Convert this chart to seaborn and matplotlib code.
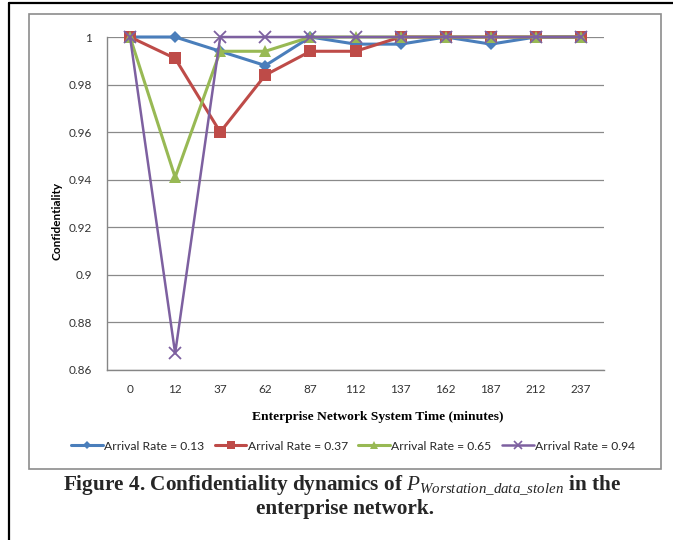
import matplotlib
matplotlib.use("Agg")
import matplotlib.pyplot as plt
import seaborn as sns
import pandas as pd
from matplotlib.lines import Line2D
from matplotlib.patches import Rectangle

times = ["0", "12", "37", "62", "87", "112", "137", "162", "187", "212", "237"]
rate_013 = [1.0, 1.0, 0.994, 0.988, 1.0, 0.997, 0.997, 1.0, 0.997, 1.0, 1.0]
rate_037 = [1.0, 0.991, 0.960, 0.984, 0.994, 0.994, 1.0, 1.0, 1.0, 1.0, 1.0]
rate_065 = [1.0, 0.941, 0.994, 0.994, 1.0, 1.0, 1.0, 1.0, 1.0, 1.0, 1.0]
rate_094 = [1.0, 0.867, 1.0, 1.0, 1.0, 1.0, 1.0, 1.0, 1.0, 1.0, 1.0]
series_names = ["Arrival Rate = 0.13", "Arrival Rate = 0.37",
                "Arrival Rate = 0.65", "Arrival Rate = 0.94"]
y_ticks = [0.86, 0.88, 0.90, 0.92, 0.94, 0.96, 0.98, 1.0]
y_ticklabels = ["0.86", "0.88", "0.9", "0.92", "0.94", "0.96", "0.98", "1"]

sns.set_theme(style="white")
plt.rcParams["font.family"] = ["Lato", "DejaVu Sans"]
plt.rcParams["mathtext.fontset"] = "custom"
plt.rcParams["mathtext.it"] = "Liberation Serif:italic"
plt.rcParams["mathtext.rm"] = "Liberation Serif"

rows = []
for name, vals in zip(series_names, [rate_013, rate_037, rate_065, rate_094]):
    for i, v in enumerate(vals):
        rows.append({"pos": i, "val": v, "series": name})
df = pd.DataFrame(rows)

colors = ["#4A7EBB", "#BE4B48", "#98B954", "#7D60A0"]
markers = ["D", "s", "^", "X"]
msizes = [6, 8.5, 8.5, 8]

W, H = 673, 540
fig = plt.figure(figsize=(W / 100, H / 100), dpi=100)
ax = fig.add_axes([107.5 / W, 1 - 370 / H, 496 / W, 333 / H])

for name, c, m, ms in zip(series_names, colors, markers, msizes):
    sub = df[df["series"] == name]
    if m == "X":
        sns.lineplot(data=sub, x="pos", y="val", ax=ax, color=c, lw=1.8,
                     marker="x", markersize=ms, markeredgewidth=1.3,
                     markeredgecolor=c, clip_on=False, zorder=3, legend=False)
    else:
        sns.lineplot(data=sub, x="pos", y="val", ax=ax, color=c, lw=2.2,
                     marker=m, markersize=ms, markeredgewidth=0,
                     markerfacecolor=c, clip_on=False, zorder=3, legend=False)

ax.set_xlim(-0.5, len(times) - 0.5)
ax.set_ylim(0.86, 1.0)
ax.set_yticks(y_ticks)
ax.set_yticklabels(y_ticklabels)
ax.set_xticks(range(len(times)))
ax.set_xticklabels(times)
ax.set_xticks([i - 0.5 for i in range(len(times) + 1)], minor=True)
ax.tick_params(axis="x", which="major", length=0, pad=10, labelsize=8.5, colors="#333333")
ax.tick_params(axis="x", which="minor", length=5, width=1, color="#868686", direction="out")
ax.tick_params(axis="y", length=5, width=1, color="#868686", direction="out", pad=6,
               labelsize=8.5, labelcolor="#333333")
ax.grid(axis="y", color="#8a8a8a", lw=0.9)
ax.set_axisbelow(True)
for s in ["top", "right"]:
    ax.spines[s].set_visible(False)
for s in ["left", "bottom"]:
    ax.spines[s].set_color("#868686")
    ax.spines[s].set_linewidth(1)

ax.set_xlabel("Enterprise Network System Time (minutes)", family="Liberation Serif",
              fontweight="bold", fontsize=9.7, color="black")
ax.xaxis.set_label_coords((378 - 107.5) / 496, (370 - 417) / 333)
ax.xaxis.label.set_va("center")
ax.set_ylabel("Confidentiality", fontweight="bold", fontsize=8.5, color="black")
ax.yaxis.set_label_coords((57 - 107.5) / 496, (370 - 221) / 333)
ax.yaxis.label.set_va("center")

handles = []
for c, m, ms in zip(colors, markers, msizes):
    if m == "X":
        handles.append(Line2D([], [], color=c, lw=1.8, marker="x", markersize=ms * 0.8,
                              markeredgewidth=1.2))
    else:
        handles.append(Line2D([], [], color=c, lw=2.2, marker=m, markersize=ms * 0.75,
                              markeredgewidth=0))
fig.legend(handles, series_names, loc="center", bbox_to_anchor=(353 / W, 1 - 446 / H),
           ncol=4, frameon=False, fontsize=8.7, handlelength=2.6, handletextpad=0.1,
           columnspacing=0.9)

fig.add_artist(Rectangle((29 / W, 1 - 469 / H), (661 - 29) / W, (469 - 14) / H,
                         transform=fig.transFigure, fill=False, edgecolor="#8c8c8c", lw=1.2))
fig.add_artist(Line2D([9 / W, 9 / W], [0, 1 - 3 / H], transform=fig.transFigure,
                      color="black", lw=1.6))
fig.add_artist(Line2D([9 / W, 1], [1 - 3 / H, 1 - 3 / H], transform=fig.transFigure,
                      color="black", lw=1.6))

fig.text(342 / W, 1 - 485 / H,
         r"Figure 4. Confidentiality dynamics of $P_{Worstation\_data\_stolen}$ in the",
         ha="center", va="center", family="Liberation Serif", fontweight="bold",
         fontsize=15.3)
fig.text(345 / W, 1 - 509 / H, "enterprise network.", ha="center", va="center",
         family="Liberation Serif", fontweight="bold", fontsize=15.3)

fig.savefig("out.png", dpi=100)
